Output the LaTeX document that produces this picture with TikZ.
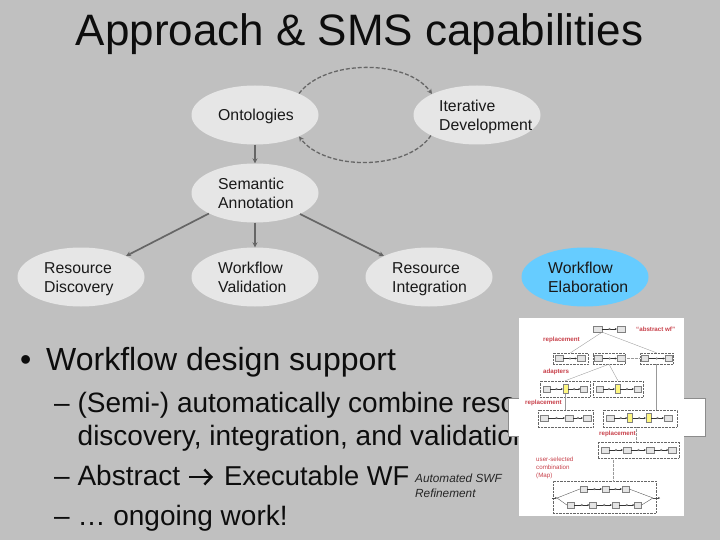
\documentclass[tikz,border=0pt]{standalone}
\usepackage{fontspec}
\setmainfont{Liberation Sans}
\usetikzlibrary{arrows.meta,shapes.geometric,decorations.markings}
\definecolor{bg}{HTML}{C0C0C0}
\definecolor{ell}{HTML}{E6E6E6}
\definecolor{conn}{HTML}{666666}
\definecolor{blu}{HTML}{66CCFF}
\definecolor{red1}{HTML}{C8404A}
\tikzset{
 x=1pt,y=-1pt,
 oval/.style={ellipse,fill=ell,minimum width=127pt,minimum height=59pt,inner sep=0pt},
 lab/.style={font=\fontsize{15.8}{19}\selectfont,align=left,anchor=west,inner sep=0pt,text=black!90,
   execute at begin node={\rule{0pt}{12pt}},execute at end node={\rule[-4pt]{0pt}{4pt}}},
 conarrow/.style={draw=conn,line width=1.7pt,-{Stealth[length=5pt,width=5pt]}},
 dasharrow/.style={draw=conn,line width=1.3pt,dash pattern=on 4pt off 2pt,-{Stealth[length=5pt,width=5pt]}},
 box/.style={draw=black!50,fill=black!10,line width=.3pt,minimum width=8pt,minimum height=6pt,inner sep=0pt},
 ybox/.style={draw=black!50,fill=yellow!50,line width=.3pt,minimum width=5pt,minimum height=9pt,inner sep=0pt},
 dbox/.style={draw=black!60,densely dotted,line width=.4pt,inner sep=0pt},
 thin1/.style={draw=black!40,line width=.35pt},
 chainl/.style={draw=black!80,line width=.35pt,-{Stealth[length=2pt,width=2pt]},
   postaction={decorate},decoration={markings,mark=at position .5 with {\draw[black!60,fill=white,line width=.25pt] (0,0) circle (.9pt);}}},
 redt/.style={text=red1,font=\fontsize{6.2}{8}\selectfont\bfseries,align=left,anchor=west,inner sep=0pt},
 bodya/.style={font=\fontsize{32}{38}\selectfont,anchor=base west,inner sep=0pt,text=black!95},
 bodyb/.style={font=\fontsize{28}{34}\selectfont,anchor=base west,inner sep=0pt,text=black!95},
 small/.style={font=\fontsize{11.8}{15}\selectfont\itshape,align=left,anchor=west,inner sep=0pt,text=black!85,
   execute at begin node={\rule{0pt}{10pt}},execute at end node={\rule[-3pt]{0pt}{3pt}}}
}
\begin{document}
\begin{tikzpicture}
\useasboundingbox (0,0) rectangle (720,540);
\fill[bg] (0,0) rectangle (720,540);
\node[font=\fontsize{44}{50}\selectfont,inner sep=0pt,anchor=base,text=black!95] (title) at (359.5,46) {Approach \& SMS capabilities};
\node[oval] (onto) at (255,115) {};
\node[oval] (iter) at (477,115) {};
\node[oval] (sem) at (255,193) {};
\node[oval] (disc) at (81,277) {};
\node[oval] (val) at (255,277) {};
\node[oval] (integ) at (429,277) {};
\node[oval,fill=blu] (elab) at (585,277) {};
\node[lab] (tonto) at (218,117) {Ontologies};
\node[lab] (titer) at (439,117.5) {Iterative\\Development};
\node[lab] (tsem) at (218,195.5) {Semantic\\Annotation};
\node[lab] (tdisc) at (44,279.5) {Resource\\Discovery};
\node[lab] (tval) at (218,279.5) {Workflow\\Validation};
\node[lab] (tint) at (392,279.5) {Resource\\Integration};
\node[lab] (tela) at (548,279.5) {Workflow\\Elaboration};
\draw[conarrow] (onto) -- (sem);
\draw[conarrow] (sem) -- (val);
\draw[conarrow] (sem.204.4) -- (disc.25);
\draw[conarrow] (sem.335.6) -- (integ.155.6);
\draw[dasharrow] (onto.26.6) .. controls (325,59) and (407,59) .. (iter.155.6);
\draw[dasharrow] (iter.204.4) .. controls (407,171) and (325,171) .. (onto.334);
% body text
\node[bodya] (b0) at (20,370) {•};
\node[bodya] (b1) at (46,370) {Workflow design support};
\node[bodyb] (b2) at (54,412) {– (Semi-) automatically combine reso};
\node[bodyb] (b3) at (77.5,445) {discovery, integration, and validation};
\node[bodyb] (b4) at (54,485) {– Abstract};
\node[bodyb,font=\fontsize{27.3}{34}\selectfont] (b5) at (224,485) {Executable WF};
\coordinate (arrstart) at (189,477);
\coordinate (arrend) at (213,477);
\draw[black!95,line width=2.4pt,-{Straight Barb[length=7pt,width=15pt,line width=2.4pt]}] (arrstart) -- (arrend);
\node[small] (b6) at (415,487) {Automated SWF\\Refinement};
\node[bodyb] (b7) at (54,525.5) {– … ongoing work!};
% white card behind the figure
\fill[white] (508,398) rectangle (705,436);
\draw[black!45,line width=.6pt] (508,436) -- (508,398) -- (705,398) -- (705,436) -- cycle;
% figure
\fill[white] (519,318) rectangle (684,516);
\node[box,minimum width=9pt] (a0) at (597.5,329) {};
\node[box] (a1) at (621,329) {};
\draw[chainl] (a0) -- (a1);
\node[redt] (r0) at (636,329) {“abstract wf”};
\node[redt] (r1) at (543,340) {replacement};
\node[dbox,minimum width=35pt,minimum height=11pt] (d1) at (570.5,358.5) {};
\node[dbox,minimum width=32pt,minimum height=11pt] (d2) at (609,358.5) {};
\node[dbox,minimum width=33pt,minimum height=11pt] (d3) at (656.5,358.5) {};
\node[box] (p1) at (559,358.5) {}; \node[box] (p2) at (581,358.5) {};
\node[box] (p3) at (598.5,358.5) {}; \node[box] (p4) at (621,358.5) {};
\node[box,minimum width=7pt] (p5) at (645,358.5) {}; \node[box,minimum width=7pt] (p6) at (668.5,358.5) {};
\draw[chainl] (p1)--(p2);
\draw[chainl] (p3)--(p4);
\draw[chainl] (p5)--(p6);
\draw[thin1,densely dotted] (d2.east) -- (d3.west);
\draw[thin1] (a0.south east) -- (d1.north);
\draw[thin1] (a0.south east) -- (d3.north);
\node[redt] (r2) at (543,372) {adapters};
\node[dbox,minimum width=50pt,minimum height=16pt] (e1) at (565,389) {};
\node[dbox,minimum width=50pt,minimum height=16pt] (e2) at (618,389) {};
\node[box,minimum width=7pt] (q1) at (546.5,389) {}; \node[ybox] (q2) at (565.5,389) {}; \node[box,minimum width=7pt] (q3) at (584,389) {};
\node[box,minimum width=7pt] (q4) at (599.5,389) {}; \node[ybox] (q5) at (617.5,389) {}; \node[box,minimum width=7pt] (q6) at (637.5,389) {};
\draw[chainl] (q1)--(q2);
\draw[chainl] (q2)--(q3);
\draw[chainl] (q4)--(q5);
\draw[chainl] (q5)--(q6);
\draw[thin1] (d2.south) -- (e1.north);
\draw[thin1] (d2.south) -- (e2.north);
\node[redt] (r3) at (525,403) {replacement};
\node[dbox,minimum width=55pt,minimum height=17pt] (f1) at (565.5,418.5) {};
\node[dbox,minimum width=74pt,minimum height=17pt] (f2) at (640,418.5) {};
\node[box] (s1) at (544,418) {}; \node[box] (s2) at (569,418) {}; \node[box] (s3) at (587,418) {};
\node[box] (s4) at (610,418) {}; \node[ybox] (s5) at (630,418) {}; \node[ybox] (s6) at (648.5,418) {}; \node[box] (s7) at (668,418) {};
\draw[chainl] (s1)--(s2);
\draw[chainl] (s2)--(s3);
\draw[chainl] (s4)--(s5);
\draw[chainl] (s5)--(s6);
\draw[chainl] (s6)--(s7);
\draw[thin1] (q2) -- (q2 |- f1.north);
\draw[thin1] (d3.south) -- (d3.south |- f2.north);
\node[redt] (r4) at (599,434) {replacement};
\node[dbox,minimum width=81pt,minimum height=16pt] (g1) at (638.5,450) {};
\node[box] (t1) at (605,450) {}; \node[box] (t2) at (627,450) {}; \node[box] (t3) at (650,450) {}; \node[box] (t4) at (672.5,450) {};
\draw[chainl] (t1)--(t2);
\draw[chainl] (t2)--(t3);
\draw[chainl] (t3)--(t4);
\draw[thin1,densely dotted] (f2.south -| r4.east) -- (g1.north -| r4.east);
\node[redt,font=\fontsize{6.2}{8}\selectfont] (r5) at (536,468) {user-selected\\combination\\(Map)};
\node[dbox,minimum width=103pt,minimum height=32pt] (h1) at (604.5,497) {};
\node[box,minimum width=7pt] (u1) at (583.5,489) {}; \node[box,minimum width=7pt] (u2) at (605.5,489) {}; \node[box,minimum width=7pt] (u3) at (625.5,489) {};
\node[box,minimum width=7pt] (v1) at (570.5,505) {}; \node[box,minimum width=7pt] (v2) at (593,505) {}; \node[box,minimum width=7pt] (v3) at (615.5,505) {}; \node[box,minimum width=7pt] (v4) at (638,505) {};
\coordinate (hl) at (557,498); \coordinate (hr) at (653,498);
\coordinate (hin) at (552,498); \coordinate (hout) at (660,498);
\draw[black!70,line width=.4pt,-{Stealth[length=2pt,width=2pt]}] (hin) -- (hl);
\draw[black!70,line width=.4pt,-{Stealth[length=2pt,width=2pt]}] (hr) -- (hout);
\draw[black!70,line width=.35pt] (hl)--(u1.west) (u3.east)--(hr) (hl)--(v1.west) (v4.east)--(hr);
\draw[chainl] (u1)--(u2);
\draw[chainl] (u2)--(u3);
\draw[chainl] (v1)--(v2);
\draw[chainl] (v2)--(v3);
\draw[chainl] (v3)--(v4);
\draw[thin1,densely dotted] (g1.south -| h1.north) ++(9,0) -- ++(0,23);
\end{tikzpicture}
\end{document}
